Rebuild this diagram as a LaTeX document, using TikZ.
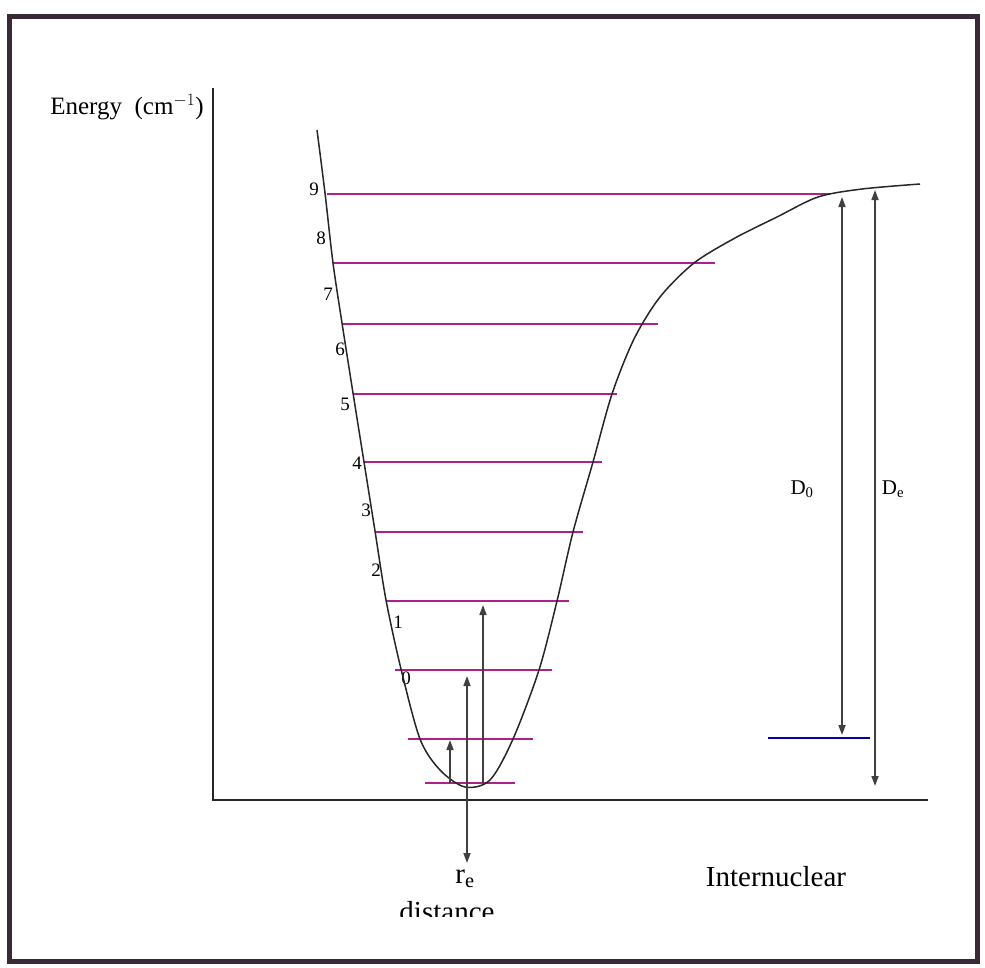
\documentclass[tikz,border=0pt]{standalone}
\usepackage{fontspec}
\setmainfont{Liberation Serif}
\usetikzlibrary{arrows.meta}
\definecolor{mLevel}{HTML}{B0208A}
\definecolor{mFrame}{HTML}{3A2A38}

\begin{document}
\begin{tikzpicture}[
    x=1pt, y=-1pt,
    axis/.style={line width=1.6pt, color=black!85},
    level/.style={line width=1.4pt, color=mLevel},
    pot/.style={line width=1.5pt, color=black!85},
    arr/.style={-{Triangle[length=10pt, width=7pt]}, line width=1.6pt, color=black!75},
    darr/.style={{Triangle[length=10pt, width=7pt]}-{Triangle[length=10pt, width=7pt]}, line width=1.6pt, color=black!75},
    num/.style={font=\fontsize{19}{21}\selectfont, inner sep=0pt},
    lbl/.style={font=\fontsize{29}{33}\selectfont, inner sep=0pt},
    dlbl/.style={font=\fontsize{21}{24}\selectfont, inner sep=0pt}
]
    \useasboundingbox (0,0) rectangle (985,967);
    \draw[line width=5pt, color=mFrame] (9,16) rectangle (977,961);

    % axes
    \coordinate (origin) at (213,800);
    \coordinate (ytop) at (213,88);
    \coordinate (xend) at (928,800);
    \draw[axis] (ytop) -- (origin) -- (xend);
    \node[font=\fontsize{25}{28}\selectfont, inner sep=0pt] (elabel) at (127,107) {Energy\ \ (cm$^{-1}$)};

    % vibrational levels
    \foreach \v/\y/\xa/\xb in {0/783/425/515, 1/739/408/533, 2/670/395/552, 3/601/386/569,
        4/532/375/583, 5/462/364/602, 6/394/353/617, 7/324/342/658, 8/263/333/715, 9/194/327/830} {
        \coordinate (l\v a) at (\xa,\y);
        \coordinate (l\v b) at (\xb,\y);
        \draw[level] (l\v a) -- (l\v b);
    }
    \foreach \v/\x/\y in {0/406/678, 1/398/622, 2/376/570, 3/366/510, 4/357/463,
        5/345/404, 6/340/349, 7/328/294, 8/321/238, 9/314/189} {
        \node[num] (n\v) at (\x,\y) {\v};
    }

    % potential curve
    \draw[pot] plot[smooth, tension=0.5] coordinates {
        (317,130) (325,193) (333,263) (342,323) (353,393) (364,462) (375,531)
        (386,600) (401,669) (420,739) (440,770) (465,787) (490,780) (513,739)
        (539,670) (557,601) (573,532) (593,462) (612,394) (634,339) (660,297)
        (694,263) (735,238) (777,217) (818,197) (862,189) (920,184)};

    % transitions from the minimum
    \coordinate (rmin) at (467,786);
    \coordinate (rdown) at (467,863);
    \draw[arr] (450,783) -- (450,740);
    \draw[arr] (rmin) -- (467,676);
    \draw[arr] (483,783) -- (483,605);
    \draw[arr] (rmin) -- (rdown);
    \node[lbl] (re) at (465,879) {r\textsubscript{e}};
    \begin{scope}
        \clip (380,895) rectangle (520,916);
        \node[lbl, anchor=base] (dist) at (447,921) {distance};
    \end{scope}
    \node[lbl] (inter) at (776,877) {Internuclear};

    % dissociation energies
    \coordinate (d0top) at (842,197);
    \coordinate (d0bot) at (842,735);
    \coordinate (detop) at (875,190);
    \coordinate (debot) at (875,786);
    \coordinate (baseA) at (768,738);
    \coordinate (baseB) at (870,738);
    \draw[level, color=blue!70!black] (baseA) -- (baseB);
    \draw[darr] (d0top) -- (d0bot);
    \draw[darr] (detop) -- (debot);
    \node[dlbl] (dzero) at (802,489) {D\textsubscript{0}};
    \node[dlbl] (de) at (893,489) {D\textsubscript{e}};
\end{tikzpicture}
\end{document}
